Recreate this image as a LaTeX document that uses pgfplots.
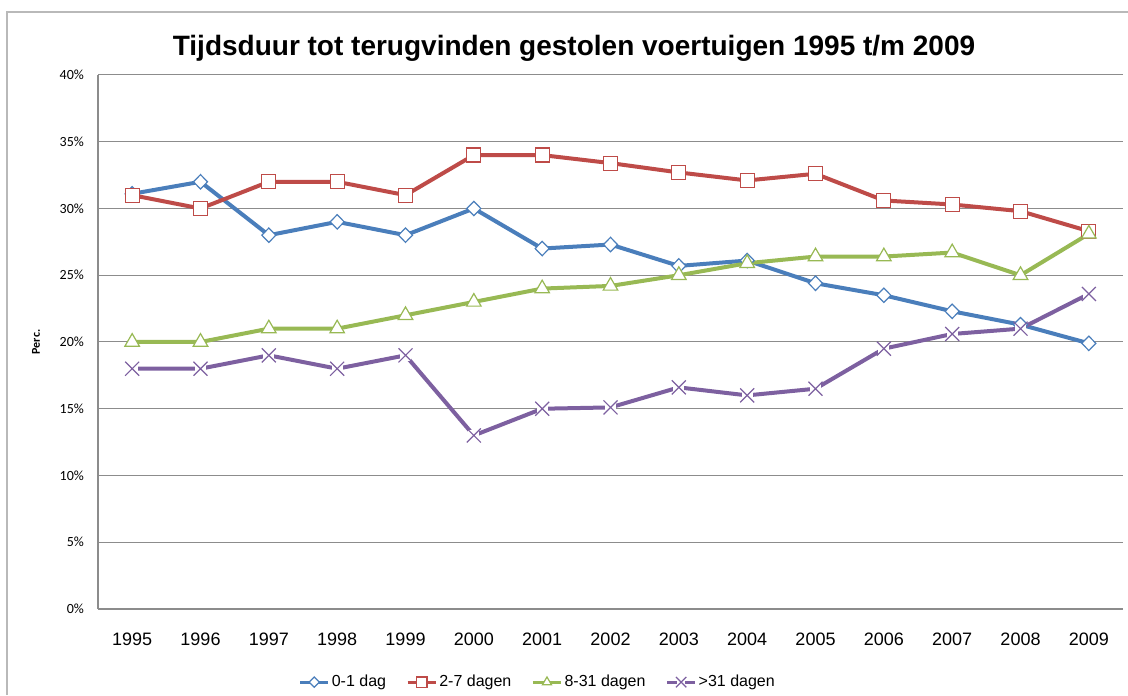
\documentclass[border=0pt]{standalone}
\usepackage{pgfplots}
\pgfplotsset{compat=1.18}
\usepackage{fontspec}
\setmainfont{Liberation Sans}
\newfontfamily\calibri{Carlito}
\definecolor{cblue}{HTML}{4A7EBB}
\definecolor{cred}{HTML}{BE4B48}
\definecolor{cgreen}{HTML}{98B954}
\definecolor{cpurple}{HTML}{7D60A0}
\definecolor{gridgray}{HTML}{8C8C8C}
\pgfdeclareplotmark{xw}{%
  \pgfpathrectangle{\pgfpoint{-0.8\pgfplotmarksize}{-0.8\pgfplotmarksize}}{\pgfpoint{1.6\pgfplotmarksize}{1.6\pgfplotmarksize}}%
  \pgfsetfillcolor{white}\pgfusepathqfill
  \pgfpathmoveto{\pgfpoint{-\pgfplotmarksize}{-\pgfplotmarksize}}\pgfpathlineto{\pgfpoint{\pgfplotmarksize}{\pgfplotmarksize}}%
  \pgfpathmoveto{\pgfpoint{-\pgfplotmarksize}{\pgfplotmarksize}}\pgfpathlineto{\pgfpoint{\pgfplotmarksize}{-\pgfplotmarksize}}%
  \pgfusepathqstroke}
\pgfplotstableread{
x blue red green purple
0 31.1 31.0 20.0 18.0
1 32.0 30.0 20.0 18.0
2 28.0 32.0 21.0 19.0
3 29.0 32.0 21.0 18.0
4 28.0 31.0 22.0 19.0
5 30.0 34.0 23.0 13.0
6 27.0 34.0 24.0 15.0
7 27.3 33.4 24.2 15.1
8 25.7 32.7 25.0 16.6
9 26.1 32.1 25.9 16.0
10 24.4 32.6 26.4 16.5
11 23.5 30.6 26.4 19.5
12 22.3 30.3 26.7 20.6
13 21.3 29.8 25.0 21.0
14 19.9 28.3 28.1 23.6
}\datatable
\begin{document}
\begin{tikzpicture}
\path[use as bounding box] (0,0) rectangle (564pt,347.5pt);
\draw[gray!55, line width=0.6pt] (3.5pt,0) -- (3.5pt,341.5pt) -- (564pt,341.5pt);
\begin{axis}[
  at={(49pt,43pt)}, anchor=south west,
  scale only axis, width=512.5pt, height=267pt,
  xmin=-0.5, xmax=14.5, ymin=0, ymax=40,
  xtick={0,...,14},
  xticklabels={1995,1996,1997,1998,1999,2000,2001,2002,2003,2004,2005,2006,2007,2008,2009},
  ytick={0,5,10,15,20,25,30,35,40},
  yticklabels={0\%,5\%,10\%,15\%,20\%,25\%,30\%,35\%,40\%},
  major tick length=0pt,
  axis x line*=bottom, axis y line*=left,
  axis line style={gridgray, line width=0.6pt},
  ymajorgrids, grid style={gridgray, line width=0.5pt},
  xticklabel style={font=\fontsize{9}{10}\selectfont, yshift=-8.5pt},
  yticklabel style={font=\calibri\fontsize{7}{8}\selectfont, xshift=-3.5pt},
  clip=false,
  legend style={at={(0.429,-0.137)}, anchor=center, draw=none, legend columns=-1,
    font=\fontsize{8}{9}\selectfont, inner sep=0pt,
    nodes={inner xsep=1pt, inner ysep=1pt},
    /tikz/every even column/.append style={column sep=9pt}},
  legend image code/.code={\draw[mark repeat=2,mark phase=2, mark size=2.6pt, line width=1.6pt] plot coordinates {(0pt,0pt)(7pt,0pt)(14pt,0pt)};},
  every axis plot/.append style={line width=2pt},
]
\addplot[cblue, mark=diamond*, mark size=3.6pt, mark options={fill=white, line width=0.6pt, xscale=1.3}] table[x=x,y=blue] {\datatable};
\addlegendentry{0-1 dag}
\addplot[cred, mark=square*, mark size=3.5pt, mark options={fill=white, line width=0.6pt}] table[x=x,y=red] {\datatable};
\addlegendentry{2-7 dagen}
\addplot[cgreen, mark=triangle*, mark size=4.2pt, mark options={fill=white, line width=0.6pt}] table[x=x,y=green] {\datatable};
\addlegendentry{8-31 dagen}
\addplot[cpurple, mark=xw, mark size=3.5pt, mark options={line width=0.6pt}] table[x=x,y=purple] {\datatable};
\addlegendentry{>31 dagen}
\end{axis}
\node[font=\bfseries\fontsize{14}{17}\selectfont] at (287pt,323.5pt) {Tijdsduur tot terugvinden gestolen voertuigen 1995 t/m 2009};
\node[rotate=90, font=\calibri\bfseries\fontsize{6}{7}\selectfont] at (18pt,176.5pt) {Perc.};
\end{tikzpicture}
\end{document}
